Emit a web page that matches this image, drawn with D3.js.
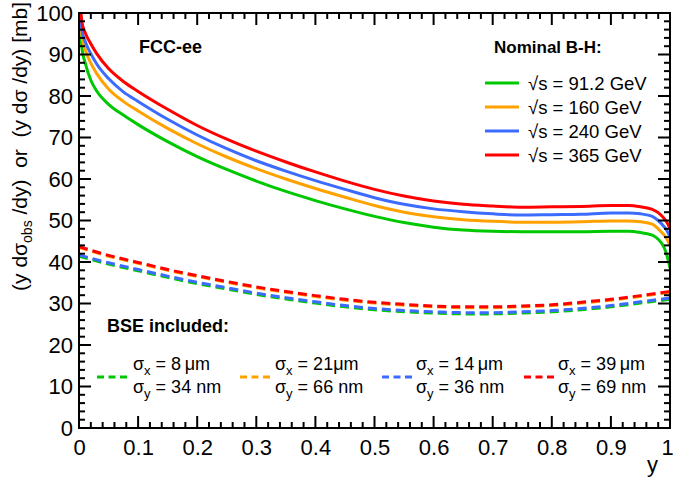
<!DOCTYPE html>
<html><head><meta charset="utf-8">
<script src="https://cdn.jsdelivr.net/npm/d3@7"></script>
<style>
body{margin:0;background:#fff;}
text{font-family:"Liberation Sans",Arial,Helvetica,sans-serif;fill:#000;}
</style></head>
<body><svg id="c" width="674" height="482"></svg>
<script>
// ---- data ----
const ySolid = [0,0.005,0.01,0.02,0.03,0.05,0.075,0.1,0.15,0.2,0.25,0.3,0.35,0.4,0.45,0.5,0.55,0.6,0.65,0.7,0.75,0.8,0.85,0.9,0.93,0.95,0.97,0.98,0.99,0.995,1.0];
const nom912 = [104,91.5,88.2,83.8,81.2,78.0,75.4,73.1,69.0,65.4,62.3,59.5,57.0,54.8,52.8,51.0,49.5,48.4,47.7,47.4,47.3,47.3,47.3,47.4,47.4,47.1,46.5,45.5,43.5,41.5,38.5];
const nom160 = [104.5,94.3,91.4,87.9,85.4,81.7,78.7,76.4,72.2,68.5,65.3,62.5,60.0,57.7,55.6,53.6,52.0,50.9,50.2,49.8,49.6,49.6,49.7,49.9,49.9,49.7,49.1,48.0,46.5,45.5,44];
const nom240 = [105,95.8,93.3,90.2,87.7,84.2,81.0,78.7,74.4,70.6,67.3,64.4,61.9,59.6,57.5,55.5,53.9,52.8,52.1,51.6,51.3,51.4,51.5,51.8,51.8,51.6,51.0,50.0,48.5,47.5,46];
const nom365 = [106,97.8,95.4,92.6,90.2,86.6,83.5,81.1,76.8,72.9,69.6,66.7,64.1,61.7,59.5,57.5,55.9,54.7,53.9,53.5,53.2,53.3,53.4,53.6,53.6,53.3,52.7,51.9,50.5,49.5,48];
const yBse = [0,0.05,0.1,0.15,0.2,0.25,0.3,0.35,0.4,0.45,0.5,0.55,0.6,0.65,0.7,0.75,0.8,0.85,0.9,0.95,1.0];
const bse912 = [41.4,39.5,37.9,36.3,34.8,33.5,32.2,31.1,30.1,29.2,28.5,28.0,27.7,27.5,27.5,27.7,28.0,28.5,29.2,30.1,31.0];
const bse160 = [43.5,41.4,39.7,38.0,36.5,35.1,33.8,32.7,31.7,30.8,30.1,29.6,29.2,29.0,29.0,29.2,29.5,30.1,30.8,31.7,32.7];
const bse240 = [41.7,39.8,38.2,36.6,35.1,33.8,32.5,31.4,30.4,29.5,28.8,28.3,28.0,27.8,27.8,28.0,28.3,28.8,29.5,30.4,31.3];
const bse365 = [43.7,41.6,39.9,38.2,36.7,35.3,34.0,32.9,31.9,31.0,30.3,29.8,29.4,29.2,29.2,29.4,29.7,30.3,31.0,31.9,32.9];
const energies = ["91.2","160","240","365"];
const sigmaX = ["8\u2009","21","14\u2009","39\u2009"];
const sigmaY = ["34","66","36","69"];
const xTicks = [0,0.1,0.2,0.3,0.4,0.5,0.6,0.7,0.8,0.9,1];
const xTickLabels = ["0","0.1","0.2","0.3","0.4","0.5","0.6","0.7","0.8","0.9","1"];
const yTicks = [0,10,20,30,40,50,60,70,80,90,100];
const colors = ["#00c800","#ffa200","#3c6cff","#ff0000"];

// ---- layout ----
const svg = d3.select("#c");
const L=79, R=670, T=13, B=428;
const x = d3.scaleLinear().domain([0,1]).range([L,R]);
const y = d3.scaleLinear().domain([0,100]).range([B,T]);

svg.append("defs").append("clipPath").attr("id","clip")
  .append("rect").attr("x",L).attr("y",T).attr("width",R-L).attr("height",B-T);

const g = svg.append("g").attr("clip-path","url(#clip)");
const line = d3.line().curve(d3.curveMonotoneX);

const solids=[nom912,nom160,nom240,nom365];
const dashes=[bse912,bse160,bse240,bse365];
dashes.forEach((s,i)=>{
  g.append("path").attr("d",line(yBse.map((v,j)=>[x(v),y(s[j])])))
   .attr("fill","none").attr("stroke",colors[i]).attr("stroke-width",3)
   .attr("stroke-dasharray","9,5");
});
solids.forEach((s,i)=>{
  g.append("path").attr("d",line(ySolid.map((v,j)=>[x(v),y(s[j])])))
   .attr("fill","none").attr("stroke",colors[i]).attr("stroke-width",3);
});

// ---- axes (ROOT style, ticks inside on all sides) ----
const ax = svg.append("g").attr("stroke","#000").attr("stroke-width",2);
ax.append("rect").attr("x",L).attr("y",T).attr("width",R-L).attr("height",B-T).attr("fill","none");
const xMinor = d3.range(0,1.0001,0.02);
xMinor.forEach(v=>{
  const major = Math.abs(v*10-Math.round(v*10))<1e-6;
  const len = major?12:6;
  ax.append("line").attr("x1",x(v)).attr("x2",x(v)).attr("y1",B).attr("y2",B-len);
  ax.append("line").attr("x1",x(v)).attr("x2",x(v)).attr("y1",T).attr("y2",T+len);
});
const yMinor = d3.range(0,100.001,2);
yMinor.forEach(v=>{
  const major = v%10===0;
  const len = major?12:6;
  ax.append("line").attr("y1",y(v)).attr("y2",y(v)).attr("x1",L).attr("x2",L+len);
  ax.append("line").attr("y1",y(v)).attr("y2",y(v)).attr("x1",R).attr("x2",R-len);
});

const xAxisG = svg.append("g").attr("transform",`translate(0,${B})`)
  .call(d3.axisBottom(x).tickValues(xTicks).tickFormat((d,i)=>xTickLabels[i]).tickSize(0).tickPadding(11));
xAxisG.select(".domain").remove();
xAxisG.selectAll("text").style("font-size","22px").attr("font-family","Liberation Sans, Arial, sans-serif")
  .attr("dx",(d,i)=> i===xTicks.length-1 ? -3 : 0);
const yAxisG = svg.append("g").attr("transform",`translate(${L},0)`)
  .call(d3.axisLeft(y).tickValues(yTicks).tickFormat(d3.format("d")).tickSize(0).tickPadding(6));
yAxisG.select(".domain").remove();
yAxisG.selectAll("text").style("font-size","22px").attr("font-family","Liberation Sans, Arial, sans-serif");

// axis titles
svg.append("text").attr("x",658).attr("y",472).attr("text-anchor","end")
  .style("font-size","22px").text("y");
const yt = svg.append("text").attr("transform","translate(27,2) rotate(-90)")
  .attr("text-anchor","end").style("font-size","21px").style("white-space","pre");
yt.append("tspan").text("(y d\u03c3");
yt.append("tspan").attr("dy",5).style("font-size","14px").text("obs");
yt.append("tspan").attr("dy",-5).text(" /dy)  or  (y d\u03c3 /dy) [mb]");

// labels
svg.append("text").attr("x",139).attr("y",53).style("font-size","18px").style("font-weight","bold").text("FCC-ee");
svg.append("text").attr("x",494).attr("y",53).style("font-size","17px").style("font-weight","bold").text("Nominal B-H:");
const legY=[83,107,131,155];
energies.forEach((e,i)=>{
  svg.append("line").attr("x1",485).attr("x2",519).attr("y1",legY[i]).attr("y2",legY[i])
    .attr("stroke",colors[i]).attr("stroke-width",3);
  svg.append("text").attr("x",528).attr("y",legY[i]+6.5).style("font-size","18.5px")
    .text("\u221As = "+e+" GeV");
});
svg.append("text").attr("x",107).attr("y",332).style("font-size","18px").style("font-weight","bold").text("BSE included:");
const dashX=[97,240,382,524], txtX=[133,275,416,558];
sigmaX.forEach((sx,i)=>{
  svg.append("line").attr("x1",dashX[i]).attr("x2",dashX[i]+30).attr("y1",377).attr("y2",377)
    .attr("stroke",colors[i]).attr("stroke-width",3).attr("stroke-dasharray","7,4.5");
  const t1 = svg.append("text").attr("x",txtX[i]).attr("y",369.5).style("font-size","18px");
  t1.append("tspan").text("\u03c3");
  t1.append("tspan").attr("dy",5).style("font-size","13px").text("x");
  t1.append("tspan").attr("dy",-5).text(" = "+sx+"\u03bcm");
  const t2 = svg.append("text").attr("x",txtX[i]).attr("y",392.5).style("font-size","18px");
  t2.append("tspan").text("\u03c3");
  t2.append("tspan").attr("dy",5).style("font-size","13px").text("y");
  t2.append("tspan").attr("dy",-5).text(" = "+sigmaY[i]+" nm");
});
</script></body></html>
